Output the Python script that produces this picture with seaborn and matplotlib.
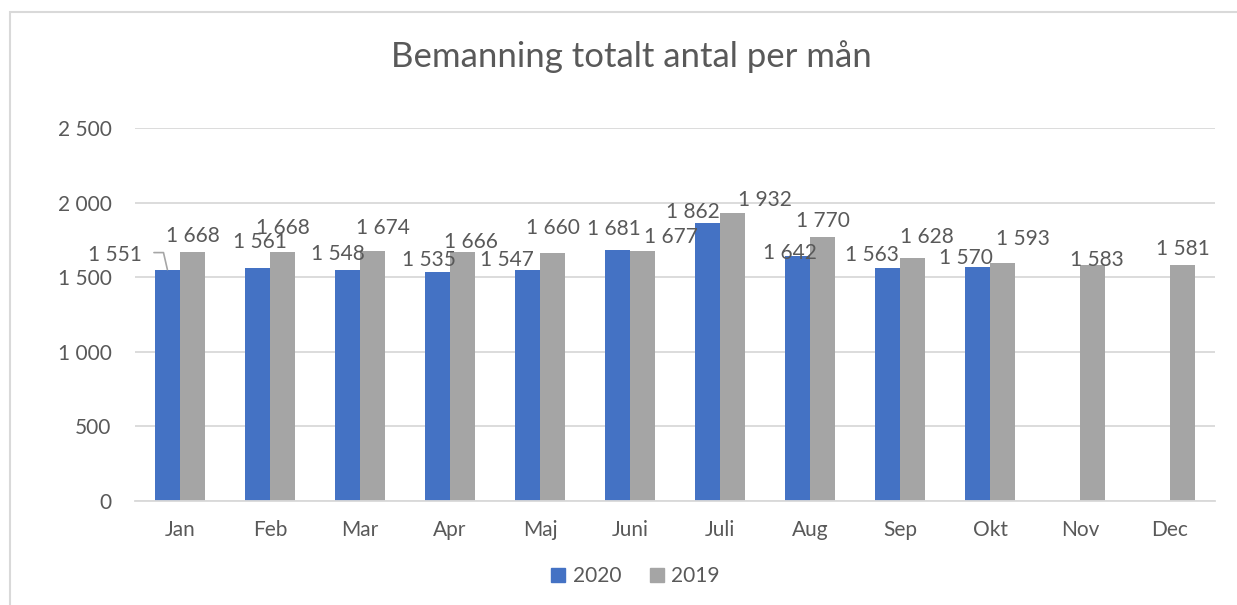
import numpy as np
import pandas as pd
import matplotlib
matplotlib.use("Agg")
import matplotlib.pyplot as plt
import seaborn as sns
from matplotlib.lines import Line2D
from matplotlib.patches import Rectangle

# data
months = ["Jan", "Feb", "Mar", "Apr", "Maj", "Juni", "Juli", "Aug", "Sep", "Okt", "Nov", "Dec"]
staff_2020 = [1551, 1561, 1548, 1535, 1547, 1681, 1862, 1642, 1563, 1570, np.nan, np.nan]
staff_2019 = [1668, 1668, 1674, 1666, 1660, 1677, 1932, 1770, 1628, 1593, 1583, 1581]
years = ["2020", "2019"]
y_ticks = [0, 500, 1000, 1500, 2000, 2500]

# label nudges in pixels (dx, dy of label centre from bar top), Excel-style placement
off_2020 = [(-52, 15), (3, 26), (-10, 16), (-8, 12), (-20, 10), (-4, 21),
            (-15, 11), (-7, 3), (-15, 13), (-11, 9), (0, 0), (0, 0)]
off_2019 = [(0, 16), (0, 24), (10, 23), (8, 10), (0, 25), (28, 14),
            (32, 13), (0, 16), (14, 21), (20, 24), (4, 5), (0, 16)]

blue = "#4472C4"
grey = "#A5A5A5"
txt = "#595959"
line_col = "#D9D9D9"

df = pd.DataFrame({
    "Månad": months * 2,
    "År": ["2020"] * 12 + ["2019"] * 12,
    "Antal": staff_2020 + staff_2019,
})

sns.set_style("white")
plt.rcParams["font.family"] = ["Lato", "DejaVu Sans"]

fig = plt.figure(figsize=(12.37, 6.05), dpi=100)
W, H = 1237, 605
ax = fig.add_axes([135 / W, (H - 501) / H, (1215 - 135) / W, (501 - 128) / H])

sns.barplot(data=df, x="Månad", y="Antal", hue="År", order=months, hue_order=years,
            palette=[blue, grey], width=0.56, errorbar=None, linewidth=0,
            saturation=1, legend=False, ax=ax)

ax.set_ylim(0, 2500)
ax.set_xlim(-0.5, 11.5)
ax.set_yticks(y_ticks)
ax.set_yticklabels([f"{t:,}".replace(",", " ") for t in y_ticks])
ax.yaxis.grid(True, color=line_col, linewidth=1.3)
ax.set_axisbelow(True)
ax.set_xlabel("")
ax.set_ylabel("")
sns.despine(ax=ax, left=True, top=True, right=True)
ax.spines["bottom"].set_color(line_col)
ax.spines["bottom"].set_linewidth(1.3)
ax.tick_params(axis="both", length=0, labelsize=15, colors=txt)
ax.tick_params(axis="x", pad=14)
ax.tick_params(axis="y", pad=17)

# data labels
for cont, vals, offs in zip(ax.containers, [staff_2020, staff_2019], [off_2020, off_2019]):
    for bar in cont:
        h = bar.get_height()
        if np.isnan(h) or h == 0:
            continue
        xc = bar.get_x() + bar.get_width() / 2
        i = int(round(xc))
        dx, dy = offs[i]
        lab = f"{int(vals[i]):,}".replace(",", " ")
        if i == 0 and cont is ax.containers[0]:
            ax.annotate(lab, xy=(xc, h), xytext=(dx, dy), textcoords="offset pixels",
                        ha="center", va="center", fontsize=15, color=txt,
                        arrowprops=dict(arrowstyle="-", color="#A6A6A6", lw=1.2,
                                        relpos=(1, 0.6), shrinkA=6, shrinkB=0,
                                        connectionstyle="angle,angleA=0,angleB=103,rad=0"))
        else:
            ax.annotate(lab, xy=(xc, h), xytext=(dx, dy), textcoords="offset pixels",
                        ha="center", va="center", fontsize=15, color=txt)

fig.text(631 / W, 1 - 57 / H, "Bemanning totalt antal per mån", ha="center", va="center",
         fontsize=25, color=txt)

handles = [Line2D([], [], marker="s", linestyle="", markersize=9.5, color=c) for c in [blue, grey]]
fig.legend(handles, years, loc="center", bbox_to_anchor=(634 / W, 1 - 576 / H), ncol=2,
           frameon=False, fontsize=15, labelcolor=txt, handletextpad=0.2, columnspacing=1.2,
           handlelength=1.0)

# chart frame
fig.patches.append(Rectangle((10 / W, -0.1), 1.2, 1.1 - 12 / H, transform=fig.transFigure,
                             fill=False, edgecolor=line_col, linewidth=1.5))

fig.savefig("out.png", dpi=100)
